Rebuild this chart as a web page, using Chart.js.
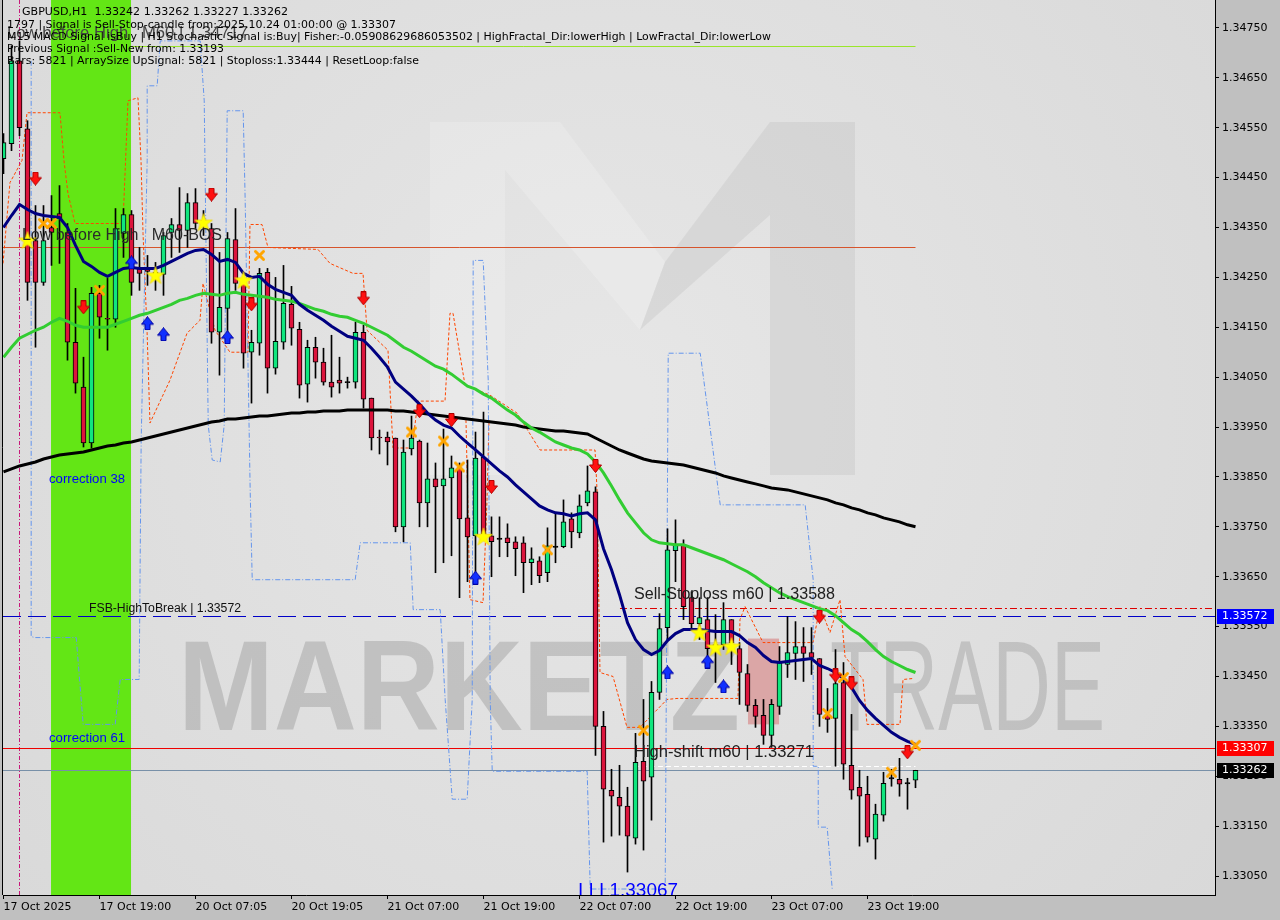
<!DOCTYPE html>
<html>
<head>
<meta charset="utf-8">
<title>GBPUSD,H1</title>
<script src="https://cdn.jsdelivr.net/npm/chart.js@4.4.1/dist/chart.umd.min.js"></script>
<style>
html,body{margin:0;padding:0;background:#c0c0c0;overflow:hidden;}
canvas{display:block;}
</style>
</head>
<body>
<canvas id="chart" width="1280" height="920"></canvas>
<script>
// ---------------- data ----------------
const symbolName = 'GBPUSD,H1';
const xTickIndex = [0, 12, 24, 36, 48, 60, 72, 84, 96, 108];
const xTickLabels = ['17 Oct 2025', '17 Oct 19:00', '20 Oct 07:05', '20 Oct 19:05', '21 Oct 07:00',
  '21 Oct 19:00', '22 Oct 07:00', '22 Oct 19:00', '23 Oct 07:00', '23 Oct 19:00'];
const yTickValues = [1.34750, 1.34650, 1.34550, 1.34450, 1.34350, 1.34250, 1.34150, 1.34050, 1.33950,
  1.33850, 1.33750, 1.33650, 1.33550, 1.33450, 1.33350, 1.33250, 1.33150, 1.33050];

const candleOpen = [1.34488,1.34518,1.34684,1.34548,1.34324,1.34240,1.34350,1.34378,1.34340,1.34120,
1.34030,1.33918,1.34218,1.34168,1.34166,1.34338,1.34376,1.34268,1.34268,1.34260,
1.34256,1.34340,1.34356,1.34344,1.34400,1.34364,1.34348,1.34140,1.34188,1.34326,
1.34238,1.34100,1.34118,1.34260,1.34068,1.34120,1.34196,1.34146,1.34036,1.34110,
1.34080,1.34040,1.34044,1.34040,1.34040,1.34140,1.34008,1.33930,1.33930,1.33928,
1.33750,1.33906,1.33922,1.33798,1.33846,1.33832,1.33848,1.33868,1.33768,1.33732,
1.33890,1.33732,1.33726,1.33728,1.33720,1.33718,1.33678,1.33682,1.33658,1.33710,
1.33710,1.33766,1.33738,1.33798,1.33820,1.33350,1.33222,1.33208,1.33190,1.33126,
1.33280,1.33248,1.33418,1.33548,1.33702,1.33714,1.33608,1.33556,1.33564,1.33514,
1.33514,1.33564,1.33506,1.33456,1.33392,1.33372,1.33332,1.33390,1.33474,1.33496,
1.33510,1.33498,1.33486,1.33372,1.33366,1.33438,1.33272,1.33228,1.33214,1.33124,
1.33172,1.33246,1.33244,1.33236,1.33242];
const candleHigh = [1.34538,1.34714,1.34724,1.34564,1.34394,1.34394,1.34414,1.34434,1.34358,1.34228,
1.34090,1.34230,1.34234,1.34248,1.34388,1.34388,1.34384,1.34310,1.34294,1.34280,
1.34340,1.34368,1.34430,1.34418,1.34428,1.34384,1.34358,1.34300,1.34340,1.34388,
1.34250,1.34144,1.34268,1.34268,1.34250,1.34274,1.34232,1.34160,1.34124,1.34130,
1.34108,1.34134,1.34090,1.34050,1.34160,1.34154,1.34008,1.33944,1.33940,1.33928,
1.33924,1.33972,1.33924,1.33918,1.33878,1.33946,1.33892,1.33878,1.33884,1.33940,
1.33980,1.33770,1.33770,1.33756,1.33730,1.33730,1.33708,1.33690,1.33748,1.33778,
1.33804,1.33778,1.33814,1.33872,1.33830,1.33380,1.33264,1.33272,1.33228,1.33336,
1.33404,1.33440,1.33576,1.33746,1.33764,1.33724,1.33620,1.33608,1.33608,1.33574,
1.33598,1.33564,1.33518,1.33474,1.33404,1.33404,1.33404,1.33510,1.33570,1.33560,
1.33548,1.33548,1.33486,1.33426,1.33504,1.33478,1.33374,1.33262,1.33250,1.33194,
1.33258,1.33264,1.33286,1.33246,1.33262];
const candleLow = [1.34458,1.34504,1.34534,1.34204,1.34110,1.34234,1.34274,1.34278,1.34084,1.34018,
1.33910,1.33908,1.34128,1.34104,1.34150,1.34290,1.34214,1.34224,1.34234,1.34224,
1.34214,1.34290,1.34300,1.34310,1.34348,1.34334,1.34118,1.34054,1.34138,1.34224,
1.34068,1.33998,1.34094,1.34018,1.34056,1.34106,1.34114,1.34008,1.34000,1.34048,
1.34034,1.34010,1.34018,1.34028,1.34028,1.33988,1.33904,1.33896,1.33874,1.33740,
1.33720,1.33894,1.33750,1.33750,1.33658,1.33678,1.33692,1.33608,1.33640,1.33644,
1.33724,1.33650,1.33690,1.33690,1.33652,1.33618,1.33634,1.33638,1.33640,1.33678,
1.33708,1.33708,1.33728,1.33792,1.33292,1.33118,1.33130,1.33132,1.33058,1.33114,
1.33102,1.33162,1.33404,1.33524,1.33640,1.33564,1.33544,1.33524,1.33484,1.33438,
1.33504,1.33474,1.33394,1.33380,1.33348,1.33314,1.33308,1.33374,1.33448,1.33444,
1.33440,1.33454,1.33350,1.33338,1.33270,1.33244,1.33204,1.33110,1.33118,1.33084,
1.33160,1.33230,1.33210,1.33184,1.33227];
const candleClose = [1.34520,1.34684,1.34550,1.34240,1.34240,1.34324,1.34340,1.34368,1.34120,1.34038,
1.33918,1.34218,1.34170,1.34166,1.34348,1.34376,1.34240,1.34258,1.34262,1.34254,
1.34334,1.34356,1.34344,1.34400,1.34358,1.34356,1.34140,1.34190,1.34328,1.34238,
1.34098,1.34120,1.34258,1.34068,1.34122,1.34198,1.34148,1.34034,1.34110,1.34080,
1.34040,1.34030,1.34038,1.34040,1.34140,1.34006,1.33928,1.33928,1.33920,1.33750,
1.33900,1.33928,1.33798,1.33846,1.33830,1.33846,1.33868,1.33766,1.33730,1.33888,
1.33736,1.33720,1.33726,1.33718,1.33706,1.33678,1.33686,1.33652,1.33712,1.33710,
1.33760,1.33740,1.33792,1.33822,1.33350,1.33224,1.33210,1.33190,1.33130,1.33278,
1.33240,1.33418,1.33546,1.33704,1.33714,1.33590,1.33556,1.33568,1.33506,1.33510,
1.33564,1.33518,1.33458,1.33392,1.33370,1.33332,1.33394,1.33478,1.33498,1.33510,
1.33496,1.33488,1.33374,1.33364,1.33436,1.33274,1.33222,1.33210,1.33128,1.33174,
1.33236,1.33246,1.33234,1.33236,1.33262];

const maFast = [1.34350,1.34374,1.34396,1.34386,1.34378,1.34374,1.34372,1.34370,1.34350,1.34314,
1.34282,1.34272,1.34260,1.34252,1.34260,1.34268,1.34270,1.34268,1.34268,1.34268,
1.34274,1.34282,1.34290,1.34298,1.34304,1.34306,1.34296,1.34282,1.34286,1.34280,
1.34258,1.34250,1.34252,1.34236,1.34226,1.34220,1.34214,1.34196,1.34184,1.34174,
1.34164,1.34152,1.34142,1.34132,1.34128,1.34124,1.34108,1.34090,1.34070,1.34040,
1.34026,1.34012,1.33996,1.33978,1.33964,1.33954,1.33948,1.33932,1.33918,1.33904,
1.33890,1.33876,1.33862,1.33850,1.33834,1.33820,1.33806,1.33792,1.33784,1.33778,
1.33776,1.33772,1.33776,1.33778,1.33764,1.33706,1.33664,1.33614,1.33558,1.33524,
1.33504,1.33494,1.33502,1.33522,1.33536,1.33544,1.33544,1.33544,1.33542,1.33540,
1.33540,1.33540,1.33532,1.33518,1.33508,1.33492,1.33480,1.33478,1.33480,1.33482,
1.33484,1.33486,1.33472,1.33466,1.33458,1.33446,1.33428,1.33402,1.33382,1.33366,
1.33352,1.33338,1.33328,1.33320,1.33314];
const maMid = [1.34090,1.34110,1.34128,1.34136,1.34144,1.34150,1.34160,1.34168,1.34162,1.34154,
1.34150,1.34150,1.34150,1.34150,1.34156,1.34162,1.34168,1.34174,1.34178,1.34184,
1.34190,1.34196,1.34204,1.34208,1.34214,1.34218,1.34216,1.34214,1.34218,1.34220,
1.34216,1.34214,1.34212,1.34210,1.34206,1.34204,1.34202,1.34198,1.34192,1.34186,
1.34182,1.34176,1.34172,1.34170,1.34164,1.34158,1.34150,1.34142,1.34134,1.34122,
1.34110,1.34102,1.34092,1.34082,1.34072,1.34066,1.34056,1.34044,1.34032,1.34026,
1.34016,1.34008,1.33996,1.33984,1.33974,1.33960,1.33948,1.33940,1.33930,1.33920,
1.33914,1.33908,1.33904,1.33896,1.33880,1.33858,1.33832,1.33804,1.33778,1.33758,
1.33738,1.33724,1.33718,1.33716,1.33714,1.33714,1.33708,1.33702,1.33696,1.33690,
1.33684,1.33676,1.33668,1.33660,1.33650,1.33638,1.33628,1.33618,1.33610,1.33604,
1.33598,1.33592,1.33586,1.33582,1.33572,1.33558,1.33544,1.33534,1.33520,1.33504,
1.33490,1.33480,1.33472,1.33464,1.33458];
const maSlow = [1.33860,1.33866,1.33872,1.33876,1.33880,1.33886,1.33890,1.33894,1.33896,1.33898,
1.33900,1.33904,1.33908,1.33912,1.33914,1.33918,1.33920,1.33924,1.33928,1.33932,
1.33936,1.33940,1.33944,1.33948,1.33952,1.33956,1.33960,1.33962,1.33966,1.33966,
1.33968,1.33970,1.33972,1.33972,1.33974,1.33976,1.33978,1.33978,1.33980,1.33980,
1.33982,1.33982,1.33982,1.33984,1.33984,1.33984,1.33984,1.33984,1.33984,1.33982,
1.33982,1.33980,1.33978,1.33976,1.33974,1.33972,1.33970,1.33968,1.33966,1.33964,
1.33962,1.33960,1.33958,1.33956,1.33954,1.33950,1.33948,1.33946,1.33944,1.33942,
1.33942,1.33940,1.33938,1.33936,1.33928,1.33920,1.33912,1.33904,1.33898,1.33892,
1.33886,1.33882,1.33880,1.33878,1.33876,1.33874,1.33870,1.33866,1.33862,1.33858,
1.33852,1.33848,1.33844,1.33840,1.33836,1.33832,1.33828,1.33826,1.33824,1.33820,
1.33816,1.33812,1.33808,1.33804,1.33798,1.33794,1.33788,1.33784,1.33778,1.33774,
1.33768,1.33764,1.33760,1.33754,1.33750];

// signal markers
const sellIdx = [4,10,26,31,45,52,56,61,74,102,104,106,113];
const sellPrice = [1.34448,1.34190,1.34416,1.34196,1.34208,1.33982,1.33964,1.33830,1.33872,1.33570,1.33452,1.33436,1.33298];
const buyIdx = [16,18,20,28,59,83,88,90];
const buyPrice = [1.34280,1.34158,1.34136,1.34130,1.33648,1.33458,1.33480,1.33430];
const crossIdx = [5,6,12,32,51,55,57,68,80,103,105,111,114];
const crossPrice = [1.34358,1.34358,1.34224,1.34294,1.33940,1.33922,1.33870,1.33704,1.33342,1.33376,1.33448,1.33258,1.33312];
const starIdx = [3,19,25,30,60,87,89,91];
const starPrice = [1.34324,1.34254,1.34360,1.34244,1.33730,1.33538,1.33508,1.33510];

// fractal channel (blue dash-dot) and envelopes (orange dashed)
const channelIdx = [3.46,3.46,3.96,9.09,9.96,13.96,14.59,16.96,17.21,17.96,17.96,19.21,19.59,24.59,25.09,
25.59,26.09,27.09,27.59,27.96,29.96,30.21,30.84,31.09,43.96,44.59,50.84,51.21,54.59,55.21,
56.09,57.96,58.59,58.71,59.96,60.59,60.84,61.09,72.96,73.34,82.71,83.09,87.09,89.59,100.21,
101.21,101.21,101.84,101.84,102.96,103.59];
const channelPrice = [1.34684,1.33530,1.33528,1.33528,1.33354,1.33354,1.33444,1.33444,1.33924,1.34484,
1.34634,1.34634,1.34724,1.34724,1.34604,1.33954,1.33884,1.33880,1.33954,1.34584,
1.34584,1.34404,1.33818,1.33644,1.33644,1.33718,1.33718,1.33584,1.33584,1.33404,
1.33204,1.33204,1.33404,1.34284,1.34284,1.34044,1.33404,1.33260,1.33260,1.33024,
1.33024,1.34098,1.34098,1.33794,1.33794,1.33644,1.33270,1.33270,1.33148,1.33148,1.33024];
const envelopeIdx = [-0.06,0.81,2.31,2.94,7.06,7.56,8.06,8.94,14.94,15.56,16.81,17.19,17.44,17.94,18.31,
19.06,20.81,22.94,24.56,24.94,26.44,28.31,30.56,30.81,32.31,33.06,39.31,40.81,43.69,44.94,
45.44,48.06,48.69,50.81,51.19,51.81,55.19,55.81,56.19,57.69,60.81,64.19,67.06,73.94,74.19,
74.56,76.19,77.94,79.56,82.94,84.19,91.81,92.06,92.69,94.94,101.19,102.06,103.31,104.56,105.19,
107.44,107.94,112.06,112.44,113.69];
const envelopePrice = [1.34278,1.34440,1.34484,1.34580,1.34580,1.34484,1.34418,1.34358,1.34358,1.34604,
1.34610,1.34484,1.34338,1.34144,1.33958,1.33984,1.34044,1.34138,1.34164,1.34238,
1.34144,1.34100,1.34100,1.34356,1.34356,1.34310,1.34306,1.34278,1.34258,1.34258,
1.34144,1.34104,1.33908,1.33908,1.33924,1.34002,1.34002,1.34178,1.34178,1.34034,
1.34014,1.33978,1.33904,1.33904,1.33824,1.33458,1.33450,1.33348,1.33348,1.33404,
1.33406,1.33406,1.33564,1.33590,1.33518,1.33518,1.33590,1.33538,1.33604,1.33490,
1.33444,1.33354,1.33354,1.33444,1.33446];
const envelope2Idx = [57.81,58.31,59.94,60.44,60.69];
const envelope2Price = [1.33964,1.33604,1.33598,1.33804,1.33964];

// levels
const bosLevel = 1.34310;
const topLevel = 1.34713;
const topLevelLabel = 1.34717;
const fsbLevel = 1.33572;
const stopLevel = 1.33588;
const signalLevel = 1.33307;
const shiftLevel = 1.33271;
const lowLabelLevel = 1.33067;
const corr38Level = 1.33844;
const corr61Level = 1.33326;
const bandRange = [5.94, 15.94];
const zoneIdx = [93.06, 96.94];
const zonePrice = [1.33354, 1.33526];
const vlineIdx = 1.98;

// ---------------- helpers ----------------
const AXIS_FONT = "'DejaVu Sans', sans-serif";
const LABEL_FONT = "'Liberation Sans', Arial, sans-serif";
const lastI = candleClose.length - 1;
const lastPrice = candleClose[lastI];

function makeArrow(up, fill, edge) {
  const c = document.createElement('canvas'); c.width = 13; c.height = 14;
  const g = c.getContext('2d');
  g.beginPath();
  if (!up) { g.moveTo(4, 0.5); g.lineTo(9, 0.5); g.lineTo(9, 6); g.lineTo(12.5, 6); g.lineTo(6.5, 13.5); g.lineTo(0.5, 6); g.lineTo(4, 6); }
  else { g.moveTo(4, 13.5); g.lineTo(9, 13.5); g.lineTo(9, 8); g.lineTo(12.5, 8); g.lineTo(6.5, 0.5); g.lineTo(0.5, 8); g.lineTo(4, 8); }
  g.closePath(); g.fillStyle = fill; g.fill(); g.strokeStyle = edge; g.lineWidth = 1; g.stroke();
  return c;
}
function makeStar() {
  const c = document.createElement('canvas'); c.width = 20; c.height = 20;
  const g = c.getContext('2d'); g.beginPath();
  for (let k = 0; k < 10; k++) {
    const r = k % 2 ? 3.8 : 9.5, a = -Math.PI / 2 + k * Math.PI / 5;
    const px = 10 + r * Math.cos(a), py = 10.5 + r * Math.sin(a);
    k ? g.lineTo(px, py) : g.moveTo(px, py);
  }
  g.closePath(); g.fillStyle = '#ffff00'; g.fill(); g.strokeStyle = '#f0d000'; g.lineWidth = 0.6; g.stroke();
  return c;
}
function makeCross() {
  const c = document.createElement('canvas'); c.width = 13; c.height = 13;
  const g = c.getContext('2d'); g.strokeStyle = '#ffa500'; g.lineWidth = 3; g.lineCap = 'round';
  g.beginPath(); g.moveTo(2.5, 2.5); g.lineTo(10.5, 10.5); g.moveTo(10.5, 2.5); g.lineTo(2.5, 10.5); g.stroke();
  return c;
}
function fitText(ctx, text, x, y, font, color, width, baseline) {
  ctx.save();
  ctx.font = font; ctx.fillStyle = color; ctx.textAlign = 'left'; ctx.textBaseline = baseline || 'middle';
  const w = ctx.measureText(text).width;
  ctx.translate(x, y);
  if (width && w > 0) ctx.scale(width / w, 1);
  ctx.fillText(text, 0, 0);
  ctx.restore();
}
const pts = (xs, ys) => xs.map((v, i) => ({x: v, y: ys[i]}));

const bodyData = candleOpen.map((o, i) => {
  const c = candleClose[i];
  let lo = Math.min(o, c), hi = Math.max(o, c);
  if (hi - lo < 0.000005) { lo -= 0.000012; hi += 0.000012; }
  return {x: i, y: [lo, hi]};
});
const bodyColors = candleOpen.map((o, i) => candleClose[i] > o ? '#10e67e' : (candleClose[i] < o ? '#dc143c' : '#000000'));
const wickData = candleLow.map((l, i) => ({x: i, y: [l, candleHigh[i]]}));

const X_MIN = -0.0625, X_MAX = X_MIN + 151.5;
const Y_MAX = 1.34806, Y_MIN = 1.33012;

// ---------------- decoration plugin ----------------
const decor = {
  id: 'decor',
  beforeDraw(chart) {
    const {ctx, chartArea: a} = chart;
    const xs = chart.scales.x, ys = chart.scales.y;
    const w = a.right - a.left, h = a.bottom - a.top;
    ctx.save();
    ctx.fillStyle = '#c0c0c0'; ctx.fillRect(0, 0, chart.width, chart.height);
    const g = ctx.createRadialGradient(a.left + w * 0.5, a.top + h * 0.45, 40, a.left + w * 0.5, a.top + h * 0.45, w * 0.65);
    g.addColorStop(0, '#e6e6e6'); g.addColorStop(1, '#d9d9d9');
    ctx.fillStyle = g; ctx.fillRect(a.left, a.top, w, h);
    ctx.beginPath(); ctx.rect(a.left, a.top, w, h); ctx.clip();
    // watermark logo (stylised M)
    ctx.fillStyle = 'rgba(255,255,255,0.18)';
    ctx.beginPath(); ctx.moveTo(430, 122); ctx.lineTo(505, 122); ctx.lineTo(505, 475); ctx.lineTo(430, 475); ctx.closePath(); ctx.fill();
    ctx.beginPath(); ctx.moveTo(505, 122); ctx.lineTo(560, 122); ctx.lineTo(665, 262); ctx.lineTo(640, 330); ctx.lineTo(505, 170); ctx.closePath(); ctx.fill();
    ctx.fillStyle = 'rgba(140,140,140,0.14)';
    ctx.beginPath(); ctx.moveTo(665, 262); ctx.lineTo(770, 122); ctx.lineTo(855, 122); ctx.lineTo(855, 475); ctx.lineTo(770, 475); ctx.lineTo(770, 215); ctx.lineTo(640, 330); ctx.closePath(); ctx.fill();
    // watermark text
    fitText(ctx, 'MARKETZ', 178, 730, "bold 128px " + LABEL_FONT, 'rgba(150,150,150,0.42)', 562, 'alphabetic');
    fitText(ctx, 'TRADE', 830, 730, "128px " + LABEL_FONT, 'rgba(150,150,150,0.40)', 275, 'alphabetic');
    // green band
    const b0 = xs.getPixelForValue(bandRange[0]), b1 = xs.getPixelForValue(bandRange[1]);
    ctx.fillStyle = '#63e615'; ctx.fillRect(b0, a.top, b1 - b0, h);
    // pink zone
    const z0 = xs.getPixelForValue(zoneIdx[0]), z1 = xs.getPixelForValue(zoneIdx[1]);
    const zy0 = ys.getPixelForValue(zonePrice[1]), zy1 = ys.getPixelForValue(zonePrice[0]);
    ctx.fillStyle = '#dba6a6'; ctx.fillRect(z0, zy0, z1 - z0, zy1 - zy0);
    ctx.restore();
  },
  beforeDatasetsDraw(chart) {
    const {ctx, chartArea: a} = chart;
    const xs = chart.scales.x, ys = chart.scales.y;
    ctx.save();
    ctx.beginPath(); ctx.rect(a.left, a.top, a.right - a.left, a.bottom - a.top); ctx.clip();
    const hline = (price, x0, x1, color, width, dash) => {
      const y = Math.round(ys.getPixelForValue(price)) + 0.5;
      ctx.strokeStyle = color; ctx.lineWidth = width; ctx.setLineDash(dash || []);
      ctx.beginPath(); ctx.moveTo(x0, y); ctx.lineTo(x1, y); ctx.stroke();
    };
    const px = (i) => xs.getPixelForValue(i);
    const vx = Math.round(px(vlineIdx)) + 0.5;
    ctx.strokeStyle = '#c8187a'; ctx.lineWidth = 1; ctx.setLineDash([4, 2, 1, 2]);
    ctx.beginPath(); ctx.moveTo(vx, a.top); ctx.lineTo(vx, a.bottom); ctx.stroke();
    hline(topLevel, px(bandRange[1]), px(lastI), '#9ae62a', 1);
    hline(bosLevel, a.left, px(lastI), 'rgb(214,84,44)', 1);
    hline(fsbLevel, a.left, a.right, '#0000c8', 1, [18, 7]);
    hline(stopLevel, px(77.06), a.right, '#dd0000', 1, [7, 3, 2, 3]);
    hline(signalLevel, a.left, a.right, '#ee0000', 1);
    hline(lastPrice, a.left, a.right, '#7890a8', 1);
    hline(shiftLevel, px(78.81), px(lastI), '#ffffff', 1, [5, 3]);
    ctx.restore();
  },
  afterDatasetsDraw(chart) {
    const {ctx, chartArea: a} = chart;
    const xs = chart.scales.x, ys = chart.scales.y;
    const px = (i) => xs.getPixelForValue(i), py = (p) => ys.getPixelForValue(p);
    ctx.save();
    ctx.beginPath(); ctx.rect(a.left, a.top, a.right - a.left, a.bottom - a.top); ctx.clip();
    fitText(ctx, 'Low before High   M60 | ' + topLevelLabel.toFixed(5), px(0.44), py(topLevelLabel) - 11, '16px ' + LABEL_FONT, '#444444', 241);
    fitText(ctx, 'Low before High   M60-BOS', px(2.31), py(bosLevel) - 12, '16px ' + LABEL_FONT, '#2a2a2a', 200);
    fitText(ctx, 'Sell-Stoploss m60 | ' + stopLevel.toFixed(5), px(78.81), py(stopLevel) - 13, '16px ' + LABEL_FONT, '#202020', 201);
    fitText(ctx, 'High-shift m60 | ' + shiftLevel.toFixed(5), px(78.81), py(shiftLevel) - 13, '16px ' + LABEL_FONT, '#202020', 180);
    fitText(ctx, 'FSB-HighToBreak | ' + fsbLevel.toFixed(5), px(10.69), py(fsbLevel) - 7, '12px ' + LABEL_FONT, '#101010', 152);
    fitText(ctx, 'correction 38', px(5.69), py(corr38Level), '12px ' + LABEL_FONT, '#0000ff', 76);
    fitText(ctx, 'correction 61', px(5.69), py(corr61Level), '12px ' + LABEL_FONT, '#0000ff', 76);
    fitText(ctx, 'I I I 1.33067', px(71.81), py(lowLabelLevel) + 14, '19px ' + LABEL_FONT, '#0000ff', 100, 'top');
    const f = '11px ' + AXIS_FONT;
    fitText(ctx, symbolName + '  ' + candleOpen[lastI].toFixed(5) + ' ' + candleHigh[lastI].toFixed(5) + ' ' + candleLow[lastI].toFixed(5) + ' ' + candleClose[lastI].toFixed(5), 22, 12.5, f, '#000', 266);
    fitText(ctx, '1797 | Signal is Sell-Stop-candle from:2025.10.24 01:00:00 @ ' + signalLevel.toFixed(5), 7, 25, f, '#000', 389);
    fitText(ctx, 'M15 MACD Signal isBuy | H1 Stochastic Signal is:Buy| Fisher:-0.05908629686053502 | HighFractal_Dir:lowerHigh | LowFractal_Dir:lowerLow', 7, 37, f, '#000', 764);
    fitText(ctx, 'Previous Signal :Sell-New from: 1.33193', 7, 49.5, f, '#000', 217);
    fitText(ctx, 'Bars: 5821 | ArraySize UpSignal: 5821 | Stoploss:1.33444 | ResetLoop:false', 7, 61.5, f, '#000', 412);
    ctx.restore();
  },
  afterDraw(chart) {
    const {ctx, chartArea: a} = chart;
    const ys = chart.scales.y;
    ctx.save();
    ctx.strokeStyle = '#000'; ctx.lineWidth = 1; ctx.setLineDash([]);
    ctx.beginPath(); ctx.moveTo(a.left - 0.5, a.top); ctx.lineTo(a.left - 0.5, a.bottom); ctx.stroke();
    const box = (price, bg) => {
      const y = Math.round(ys.getPixelForValue(price));
      ctx.fillStyle = bg; ctx.fillRect(a.right + 2, y - 7, 57, 15);
      ctx.font = '11px ' + AXIS_FONT; ctx.fillStyle = '#ffffff'; ctx.textBaseline = 'middle'; ctx.textAlign = 'left';
      ctx.fillText(price.toFixed(5), a.right + 7, y + 0.5);
    };
    box(fsbLevel, '#0000ff');
    box(signalLevel, '#ff0000');
    box(lastPrice, '#000000');
    ctx.restore();
  }
};

// ---------------- chart ----------------
const arrowDown = makeArrow(false, '#ff1010', '#b00000');
const arrowUp = makeArrow(true, '#1030ff', '#0000a0');
const starImg = makeStar();
const crossImg = makeCross();

new Chart(document.getElementById('chart'), {
  type: 'bar',
  data: {
    datasets: [
      {type: 'line', label: 'sell', data: pts(sellIdx, sellPrice), showLine: false, pointStyle: arrowDown, pointRadius: 6, order: 0},
      {type: 'line', label: 'buy', data: pts(buyIdx, buyPrice), showLine: false, pointStyle: arrowUp, pointRadius: 6, order: 0},
      {type: 'line', label: 'cross', data: pts(crossIdx, crossPrice), showLine: false, pointStyle: crossImg, pointRadius: 6, order: 0},
      {type: 'line', label: 'star', data: pts(starIdx, starPrice), showLine: false, pointStyle: starImg, pointRadius: 6, order: 0},
      {type: 'line', label: 'MA fast', data: maFast.map((v, i) => ({x: i, y: v})), borderColor: '#000080', borderWidth: 3, pointRadius: 0, tension: 0, order: 1},
      {type: 'line', label: 'MA mid', data: maMid.map((v, i) => ({x: i, y: v})), borderColor: '#32cd32', borderWidth: 3, pointRadius: 0, tension: 0, order: 2},
      {type: 'line', label: 'MA slow', data: maSlow.map((v, i) => ({x: i, y: v})), borderColor: '#000000', borderWidth: 3, pointRadius: 0, tension: 0, order: 3},
      {type: 'bar', label: 'body', data: bodyData, backgroundColor: bodyColors, borderColor: '#000000', borderWidth: 1, borderSkipped: false, barThickness: 5, grouped: false, order: 4},
      {type: 'bar', label: 'wick', data: wickData, backgroundColor: '#000000', borderWidth: 0, barThickness: 1, grouped: false, order: 5},
      {type: 'line', label: 'channel', data: pts(channelIdx, channelPrice), borderColor: '#6495ed', borderWidth: 1, borderDash: [5, 2, 1, 2], pointRadius: 0, tension: 0, order: 6},
      {type: 'line', label: 'envelope', data: pts(envelopeIdx, envelopePrice), borderColor: '#ff4500', borderWidth: 1, borderDash: [3, 2], pointRadius: 0, tension: 0, order: 6},
      {type: 'line', label: 'envelope2', data: pts(envelope2Idx, envelope2Price), borderColor: '#ff4500', borderWidth: 1, borderDash: [3, 2], pointRadius: 0, tension: 0, order: 6}
    ]
  },
  options: {
    responsive: false, animation: false, devicePixelRatio: 1, events: [],
    layout: {autoPadding: false, padding: {left: 3, right: 0, top: 0, bottom: 0}},
    plugins: {legend: {display: false}, tooltip: {enabled: false}},
    scales: {
      x: {
        type: 'linear', min: X_MIN, max: X_MAX, offset: false, bounds: 'data',
        grid: {display: true, drawOnChartArea: false, drawTicks: true, tickLength: 4, color: '#000', offset: false},
        border: {display: true, color: '#000', width: 1},
        ticks: {autoSkip: false, maxRotation: 0, minRotation: 0, align: 'start', padding: 2, color: '#000',
          font: {family: AXIS_FONT, size: 11}, callback: (v, i) => xTickLabels[i]},
        afterBuildTicks: (s) => { s.ticks = xTickIndex.map(v => ({value: v})); },
        afterFit: (s) => { s.height = 25; s.paddingLeft = 0; s.paddingRight = 0; }
      },
      y: {
        type: 'linear', position: 'right', min: Y_MIN, max: Y_MAX, bounds: 'data', beginAtZero: false,
        grid: {display: true, drawOnChartArea: false, drawTicks: true, tickLength: 4, color: '#000'},
        border: {display: true, color: '#000', width: 1},
        ticks: {padding: 3, color: '#000', font: {family: AXIS_FONT, size: 11}, callback: (v) => Number(v).toFixed(5)},
        afterBuildTicks: (s) => { s.ticks = yTickValues.map(v => ({value: v})); },
        afterFit: (s) => { s.width = 65; s.paddingTop = 0; s.paddingBottom = 0; }
      }
    }
  },
  plugins: [decor]
});
</script>
</body>
</html>
